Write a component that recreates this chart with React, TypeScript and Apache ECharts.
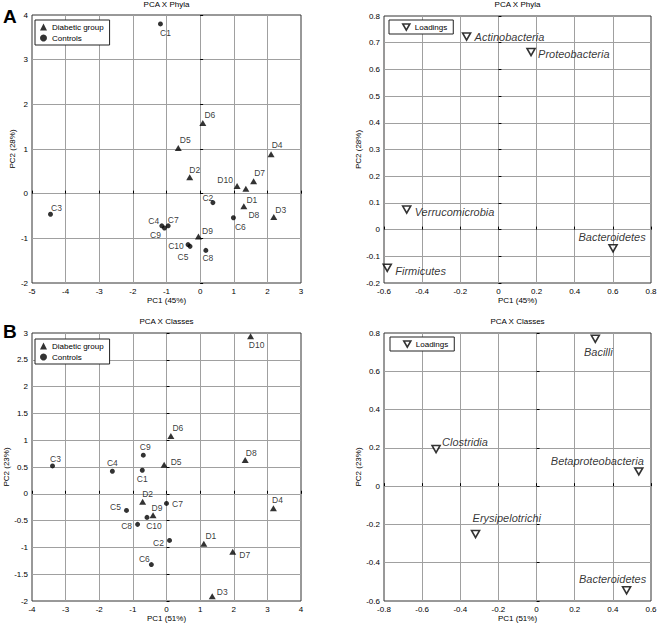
import React, { useEffect, useRef } from 'react';
import * as echarts from 'echarts';

// ---------- Data ----------
// Panel A: PCA X Phyla (scores)
const phylaDiabeticNames = ['D1', 'D2', 'D3', 'D4', 'D5', 'D6', 'D7', 'D8', 'D9', 'D10'];
const phylaDiabeticPC1 = [1.36, -0.31, 2.19, 2.11, -0.65, 0.08, 1.59, 1.3, -0.05, 1.1];
const phylaDiabeticPC2 = [0.11, 0.37, -0.52, 0.88, 1.02, 1.58, 0.28, -0.28, -0.96, 0.17];
const phylaControlNames = ['C1', 'C2', 'C3', 'C4', 'C5', 'C6', 'C7', 'C8', 'C9', 'C10'];
const phylaControlPC1 = [-1.18, 0.38, -4.45, -1.14, -0.3, 0.99, -0.95, 0.17, -1.06, -0.36];
const phylaControlPC2 = [3.8, -0.2, -0.46, -0.72, -1.18, -0.54, -0.72, -1.27, -0.77, -1.14];

// Panel A: PCA X Phyla (loadings)
const phylaLoadingNames = ['Actinobacteria', 'Proteobacteria', 'Verrucomicrobia', 'Bacteroidetes', 'Firmicutes'];
const phylaLoadingPC1 = [-0.167, 0.171, -0.481, 0.601, -0.583];
const phylaLoadingPC2 = [0.723, 0.665, 0.075, -0.07, -0.143];

// Panel B: PCA X Classes (scores)
const classDiabeticNames = ['D1', 'D2', 'D3', 'D4', 'D5', 'D6', 'D7', 'D8', 'D9', 'D10'];
const classDiabeticPC1 = [1.11, -0.71, 1.36, 3.18, -0.07, 0.13, 1.97, 2.34, -0.4, 2.5];
const classDiabeticPC2 = [-0.93, -0.15, -1.91, -0.27, 0.54, 1.08, -1.08, 0.63, -0.4, 2.94];
const classControlNames = ['C1', 'C2', 'C3', 'C4', 'C5', 'C6', 'C7', 'C8', 'C9', 'C10'];
const classControlPC1 = [-0.72, 0.09, -3.39, -1.61, -1.19, -0.45, 0.0, -0.86, -0.69, -0.58];
const classControlPC2 = [0.44, -0.87, 0.52, 0.42, -0.31, -1.32, -0.18, -0.57, 0.72, -0.44];

// Panel B: PCA X Classes (loadings)
const classLoadingNames = ['Bacilli', 'Clostridia', 'Betaproteobacteria', 'Erysipelotrichi', 'Bacteroidetes'];
const classLoadingPC1 = [0.308, -0.527, 0.536, -0.32, 0.472];
const classLoadingPC2 = [0.77, 0.194, 0.077, -0.25, -0.544];

// ---------- Label placement (style only) ----------
type Place = [number, number, string?];
const phylaScoreLabels: Record<string, Place> = {
  C1: [5, 9], C2: [-5, -5], C3: [6, -6], C4: [-8, -5], C5: [-7, 11], C6: [7, 9], C7: [5, -6], C8: [2, 8], C9: [-9, 7], C10: [-12, 1],
  D1: [6, 11], D2: [5, -7], D3: [7, -7], D4: [6, -9], D5: [7, -8], D6: [7, -8], D7: [6, -8], D8: [10, 9], D9: [9, -6], D10: [-12, -6],
};
const classScoreLabels: Record<string, Place> = {
  C1: [0, 9], C2: [-11, 3], C3: [3, -7], C4: [0, -8], C5: [-11, -3], C6: [-7, -6], C7: [11, 1], C8: [-11, 2], C9: [2, -8], C10: [7, 9],
  D1: [7, -8], D2: [5, -8], D3: [10, -4], D4: [4, -8], D5: [12, -3], D6: [7, -8], D7: [12, 3], D8: [6, -7], D9: [4, -7], D10: [6, 9],
};
const phylaLoadingLabels: Record<string, Place> = {
  Actinobacteria: [8, 0, 'left'], Proteobacteria: [7, 2, 'left'], Verrucomicrobia: [8, 2, 'left'],
  Bacteroidetes: [-1, -11, 'center'], Firmicutes: [8, 3, 'left'],
};
const classLoadingLabels: Record<string, Place> = {
  Bacilli: [3, 13, 'center'], Clostridia: [6, -7, 'left'], Betaproteobacteria: [5, -10, 'right'],
  Erysipelotrichi: [-3, -16, 'left'], Bacteroidetes: [-14, -11, 'center'],
};

const FONT = '"Liberation Sans", Arial, Helvetica, sans-serif';
const INV_TRI = 'path://M0,0L10,0L5,8.66Z';

function buildData(names: string[], xs: number[], ys: number[], places: Record<string, Place>) {
  return names.map((n, i) => {
    const p = places[n] || [0, 0, 'center'];
    return {
      name: n,
      value: [xs[i], ys[i]],
      label: { offset: [p[0], p[1]], align: p[2] || 'center' },
    };
  });
}

function scoreSeries(name: string, symbol: string, size: any, idx: number, data: any[]) {
  return {
    type: 'scatter',
    name,
    xAxisIndex: idx,
    yAxisIndex: idx,
    symbol,
    symbolSize: size,
    itemStyle: { color: '#000' },
    label: {
      show: true,
      position: 'inside',
      formatter: '{b}',
      verticalAlign: 'middle',
      fontSize: 8.5,
      color: '#000',
      textBorderWidth: 0,
      fontFamily: FONT,
    },
    emphasis: { disabled: true },
    data,
  };
}

function loadingSeries(idx: number, data: any[]) {
  return {
    type: 'scatter',
    name: 'Loadings',
    xAxisIndex: idx,
    yAxisIndex: idx,
    symbol: INV_TRI,
    symbolSize: [8, 7],
    itemStyle: { color: '#fff', borderColor: '#000', borderWidth: 1.6 },
    label: {
      show: true,
      position: 'inside',
      formatter: '{b}',
      verticalAlign: 'middle',
      fontSize: 11,
      fontStyle: 'italic',
      color: '#000',
      textBorderWidth: 0,
      fontFamily: FONT,
    },
    emphasis: { disabled: true },
    data,
  };
}

const grids = [
  { left: 32, top: 15, width: 269, height: 268 },
  { left: 384, top: 16, width: 267, height: 267 },
  { left: 32, top: 333, width: 269, height: 268 },
  { left: 384, top: 333, width: 267, height: 268 },
];

const xAxisDefs = [
  { min: -5, max: 3, interval: 1, name: 'PC1 (45%)' },
  { min: -0.6, max: 0.8, interval: 0.2, name: 'PC1 (45%)' },
  { min: -4, max: 4, interval: 1, name: 'PC1 (51%)' },
  { min: -0.8, max: 0.6, interval: 0.2, name: 'PC1 (51%)' },
];
const yAxisDefs = [
  { min: -2, max: 4, interval: 1, name: 'PC2 (28%)', gap: 15 },
  { min: -0.2, max: 0.8, interval: 0.1, name: 'PC2 (28%)', gap: 20 },
  { min: -2, max: 3, interval: 0.5, name: 'PC2 (23%)', gap: 21 },
  { min: -0.6, max: 0.8, interval: 0.2, name: 'PC2 (23%)', gap: 20 },
];

const axisCommon = {
  type: 'value',
  nameLocation: 'middle',
  nameTextStyle: { fontSize: 8, color: '#000', fontFamily: FONT },
  axisLine: { show: false },
  axisTick: { show: true, inside: true, length: 3, lineStyle: { color: '#000' } },
  axisLabel: { fontSize: 8, color: '#000', fontFamily: FONT, margin: 4 },
  splitLine: { show: true, showMinLine: false, showMaxLine: false, lineStyle: { color: '#a0a0a0', width: 1 } },
};

const legendCommon = {
  orient: 'vertical',
  backgroundColor: '#fff',
  borderColor: '#222',
  borderWidth: 1,
  borderRadius: 0,
  itemWidth: 7,
  itemHeight: 7,
  itemGap: 3,
  selectedMode: false,
  textStyle: { fontSize: 8, color: '#000', fontFamily: FONT },
};

export default function App() {
  const ref = useRef<HTMLDivElement>(null);
  useEffect(() => {
    if (!ref.current) return;
    const chart = echarts.init(ref.current, null, { renderer: 'svg' });
    const option: any = {
      animation: false,
      backgroundColor: '#fff',
      title: [
        { text: 'PCA X Phyla', left: 166.5, top: 0, textAlign: 'center' },
        { text: 'PCA X Phyla', left: 517.5, top: 0, textAlign: 'center' },
        { text: 'PCA X Classes', left: 166.5, top: 317, textAlign: 'center' },
        { text: 'PCA X Classes', left: 517.5, top: 317, textAlign: 'center' },
      ].map((t) => ({
        ...t,
        padding: 0,
        textStyle: { fontSize: 8, fontWeight: 'normal', color: '#000', fontFamily: FONT },
      })),
      grid: grids.map((g) => ({ ...g, show: true, borderColor: '#333', borderWidth: 1, backgroundColor: '#fff' })),
      xAxis: xAxisDefs.map((d, i) => ({
        ...axisCommon,
        gridIndex: i,
        min: d.min,
        max: d.max,
        interval: d.interval,
        name: d.name,
        nameGap: 13,
      })),
      yAxis: yAxisDefs.map((d, i) => ({
        ...axisCommon,
        gridIndex: i,
        min: d.min,
        max: d.max,
        interval: d.interval,
        name: d.name,
        nameGap: d.gap,
      })),
      legend: [
        { ...legendCommon, left: 35, top: 20, padding: [3, 6, 3, 5], data: ['Diabetic group', 'Controls'] },
        {
          ...legendCommon,
          left: 389,
          top: 20,
          padding: [3, 6, 3, 13],
          itemStyle: { color: '#fff', borderColor: '#000', borderWidth: 1.6 },
          data: [{ name: 'Loadings', icon: INV_TRI }],
        },
        { ...legendCommon, left: 35, top: 339, padding: [3, 6, 3, 5], data: ['Diabetic group', 'Controls'] },
        {
          ...legendCommon,
          left: 390,
          top: 337,
          padding: [3, 6, 3, 13],
          itemStyle: { color: '#fff', borderColor: '#000', borderWidth: 1.6 },
          data: [{ name: 'Loadings', icon: INV_TRI }],
        },
      ],
      graphic: [
        { type: 'text', left: 3, top: 7, style: { text: 'A', font: 'bold 19px ' + FONT, fill: '#000' } },
        { type: 'text', left: 3, top: 322, style: { text: 'B', font: 'bold 19px ' + FONT, fill: '#000' } },
      ],
      series: [
        scoreSeries('Diabetic group', 'triangle', [7, 6], 0, buildData(phylaDiabeticNames, phylaDiabeticPC1, phylaDiabeticPC2, phylaScoreLabels)),
        scoreSeries('Controls', 'circle', 5, 0, buildData(phylaControlNames, phylaControlPC1, phylaControlPC2, phylaScoreLabels)),
        loadingSeries(1, buildData(phylaLoadingNames, phylaLoadingPC1, phylaLoadingPC2, phylaLoadingLabels)),
        scoreSeries('Diabetic group', 'triangle', [7, 6], 2, buildData(classDiabeticNames, classDiabeticPC1, classDiabeticPC2, classScoreLabels)),
        scoreSeries('Controls', 'circle', 5, 2, buildData(classControlNames, classControlPC1, classControlPC2, classScoreLabels)),
        loadingSeries(3, buildData(classLoadingNames, classLoadingPC1, classLoadingPC2, classLoadingLabels)),
      ],
    };
    chart.setOption(option);
    return () => chart.dispose();
  }, []);
  return (
    <div
      ref={ref}
      style={{ position: 'absolute', left: 0, top: 0, width: 661, height: 627, background: '#fff' }}
    />
  );
}
